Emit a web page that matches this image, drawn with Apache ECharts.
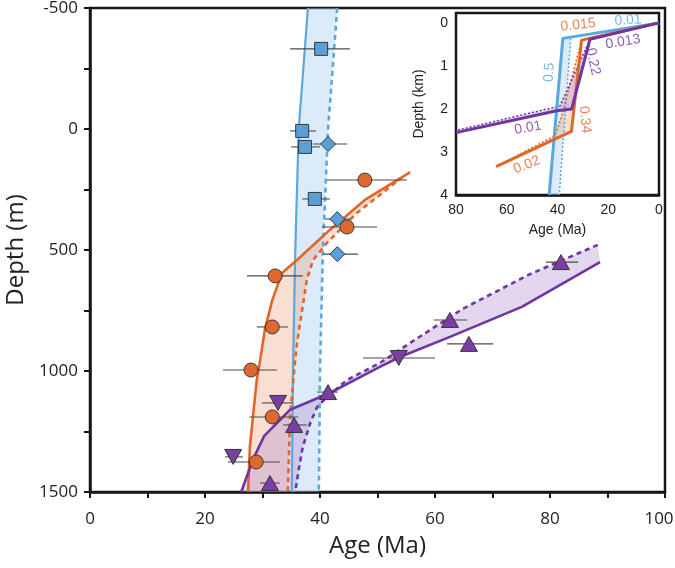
<!DOCTYPE html>
<html><head><meta charset="utf-8">
<script src="https://cdn.jsdelivr.net/npm/echarts@6/dist/echarts.min.js"></script>
<style>html,body{margin:0;padding:0;background:#fff}#c{width:675px;height:568px}</style>
</head><body><div id="c"></div>
<script>
// ---------- tick / label values ----------
const xTicks = [0,10,20,30,40,50,60,70,80,90,100];
const xLabels = [0,20,40,60,80,100];
const yTicks = [-500,-250,0,250,500,750,1000,1250,1500];
const yLabels = [-500,0,500,1000,1500];
const insetXTicks = [0,10,20,30,40,50,60,70,80];
const insetXLabels = [0,20,40,60,80];
const insetYTicks = [0,0.5,1,1.5,2,2.5,3,3.5,4];
const insetYLabels = [0,1,2,3,4];

// ---------- main model curves [age (Ma), depth (m)] ----------
const blueSolid = [[37.9,-500],[36.3,0],[35.7,500],[35.3,1000],[35.1,1500]];
const blueDashed = [[43.0,-500],[41.4,0],[40.5,500],[40.0,1000],[39.8,1500]];
const orangeSolid = [[55.7,178],[47.8,293],[41.7,417],[36.0,541],[33.4,595],[31.7,707],[30.4,830],[29.6,954],[29.0,1037],[27.8,1314],[27.5,1500]];
const orangeDashed = [[54.4,198],[46.4,347],[41.2,471],[38.8,541],[37.7,624],[36.9,748],[36.0,884],[35.5,1000],[34.8,1190],[34.4,1500]];
const purpleSolid = [[88.7,550],[75.1,735],[62.6,859],[53.9,942],[50.4,983],[41.7,1091],[34.8,1160],[30.3,1268],[28.3,1368],[26.3,1500]];
const purpleDashed = [[88.3,479],[76.5,600],[64.9,742],[56.2,876],[50.4,967],[44.7,1037],[41.2,1107],[39.5,1149],[38.3,1215],[37.0,1314],[36.2,1421],[35.7,1500]];

// ---------- samples [age, depth, ageLow, ageHigh] ----------
const blueSquares = [[40.2,-331,34.8,45.2],[36.9,8,34.8,39.3],[37.4,74,35.0,40.0],[39.1,289,36.9,41.7]];
const blueDiamonds = [[41.4,62,38.8,44.7],[43.0,372,40.9,45.2],[43.0,517,40.5,46.6]];
const orangeCircles = [[47.8,211,41.2,55.1],[44.7,405,40.3,49.9],[32.2,607,27.3,37.0],[31.7,818,29.0,34.4],[28.0,996,23.1,32.5],[31.7,1190,27.7,36.2],[28.9,1376,24.0,33.0]];
const purpleUp = [[81.9,550,79.3,84.9],[62.6,789,59.8,65.6],[65.9,888,62.1,70.1],[41.4,1087,39.5,43.1],[35.5,1223,33.6,37.7],[31.3,1463,29.6,33.0]];
const purpleDown = [[53.7,946,47.5,60.0],[32.7,1132,29.9,35.3],[24.9,1355,23.5,26.6]];

// ---------- inset curves [age (Ma), depth (km)] ----------
const insetBlueSolid = [[0,0],[37.9,0.36],[43.3,4.0]];
const insetBlueDot = [[34.8,0.36],[39.3,4.0]];
const insetOrangeSolid = [[0,0],[30.5,0.4],[34.5,2.52],[64.2,3.34]];
const insetOrangeDot = [[30.5,0.4],[38.5,2.2],[41,2.62],[57,3.12]];
const insetPurpleSolid = [[0,0],[27.2,0.38],[34.4,2.0],[40.3,2.04],[80,2.55]];
const insetPurpleDot = [[27.2,0.38],[39,1.93],[80,2.5]];

// ---------- inset annotations ----------
const insetNoteText = ['0.01','0.015','0.5','0.22','0.013','0.34','0.01','0.02'];
const insetNoteAt = [[12.2,-0.06],[31.9,0.05],[43.2,1.15],[26.0,0.9],[14.2,0.44],[29.2,2.25],[51.6,2.44],[52.1,3.3]];

// ---------- styling ----------
const BLUE = '#5BA7DF', ORANGE = '#E0662A', PURPLE = '#7135A0';
const BLUE_FILL = 'rgba(170,208,240,0.42)', ORANGE_FILL = 'rgba(238,160,125,0.35)', PURPLE_FILL = 'rgba(180,150,210,0.38)';
const noteColor = [BLUE, ORANGE, BLUE, PURPLE, PURPLE, ORANGE, PURPLE, ORANGE];
const noteRot = [3, 6, 86, -78, 9, -84, 10, 22];

function band(a, b, color, idx, z) {
  return {
    type: 'custom', xAxisIndex: idx, yAxisIndex: idx, z: z, silent: true, animation: false,
    data: [[a[0][0], a[0][1]]],
    renderItem: function (params, api) {
      const pts = a.concat(b.slice().reverse()).map(p => api.coord(p));
      return { type: 'polygon', shape: { points: pts }, style: { fill: color } };
    }
  };
}
function line(data, color, width, type, idx, z) {
  return {
    type: 'line', data: data, xAxisIndex: idx, yAxisIndex: idx, symbol: 'none', silent: true,
    animation: false, clip: false, z: z, lineStyle: { color: color, width: width, type: type, cap: 'butt' }
  };
}
function errBars(pts) {
  return {
    type: 'custom', xAxisIndex: 0, yAxisIndex: 0, z: 5, silent: true, animation: false,
    data: pts.map(p => [p[2], p[3], p[1]]),
    encode: { x: [0, 1], y: 2 },
    renderItem: function (params, api) {
      const s = api.coord([api.value(0), api.value(2)]);
      const e = api.coord([api.value(1), api.value(2)]);
      return { type: 'line', shape: { x1: s[0], y1: s[1], x2: e[0], y2: e[1] }, style: { stroke: '#4a4a4a', lineWidth: 1.1 } };
    }
  };
}
function markers(pts, symbol, size, color, rot) {
  return {
    type: 'scatter', xAxisIndex: 0, yAxisIndex: 0, z: 6, silent: true, animation: false,
    data: pts.map(p => [p[0], p[1]]), symbol: symbol, symbolSize: size, symbolRotate: rot || 0,
    itemStyle: { color: color, borderColor: '#2b2b2b', borderWidth: 0.9, opacity: 1 }
  };
}

const mainFont = 'Open Sans';
const insetFont = 'Liberation Sans';
const plain = v => String(v);
const mainX = v => (v === 100 ? '{r|100}' : String(v));

const option = {
  backgroundColor: '#fff',
  animation: false,
  grid: [
    { left: 90, top: 8, width: 575, height: 484, show: true, borderColor: '#161616', borderWidth: 2.5, backgroundColor: '#fff', containLabel: false, outerBoundsMode: 'none' },
    { left: 456, top: 13, width: 203, height: 182, show: true, borderColor: '#161616', borderWidth: 2.5, backgroundColor: '#fff', z: 3, containLabel: false, outerBoundsMode: 'none' }
  ],
  xAxis: [
    {
      gridIndex: 0, type: 'value', min: 0, max: 100,
      name: 'Age (Ma)', nameLocation: 'middle', nameGap: 42,
      nameTextStyle: { fontFamily: mainFont, fontSize: 24, color: '#222' },
      axisLine: { show: true, onZero: false, lineStyle: { color: '#161616', width: 2.5 } },
      axisTick: { show: true, length: 6, customValues: xTicks, lineStyle: { color: '#161616', width: 2 } },
      axisLabel: { customValues: xLabels, formatter: mainX, margin: 19, fontFamily: mainFont, fontSize: 17, color: '#222',
        rich: { r: { fontFamily: mainFont, fontSize: 17, color: '#222', padding: [0, 12, 0, 0] } } },
      splitLine: { show: false }
    },
    {
      gridIndex: 1, type: 'value', min: 0, max: 80, inverse: true,
      name: 'Age (Ma)', nameLocation: 'middle', nameGap: 28,
      nameTextStyle: { fontFamily: insetFont, fontSize: 14, color: '#222' },
      axisLine: { show: true, onZero: false, lineStyle: { color: '#161616', width: 2.5 } },
      axisTick: { show: true, inside: true, length: 5, customValues: insetXTicks, lineStyle: { color: '#161616', width: 2 } },
      axisLabel: { customValues: insetXLabels, formatter: plain, margin: 8, fontFamily: insetFont, fontSize: 14, color: '#222' },
      splitLine: { show: false }
    }
  ],
  yAxis: [
    {
      gridIndex: 0, type: 'value', min: -500, max: 1500, inverse: true,
      name: 'Depth (m)', nameLocation: 'middle', nameGap: 54,
      nameTextStyle: { fontFamily: mainFont, fontSize: 24, color: '#222' },
      axisLine: { show: true, onZero: false, lineStyle: { color: '#161616', width: 2.5 } },
      axisTick: { show: true, length: 6, customValues: yTicks, lineStyle: { color: '#161616', width: 2 } },
      axisLabel: { customValues: yLabels, formatter: plain, margin: 12, fontFamily: mainFont, fontSize: 17, color: '#222' },
      splitLine: { show: false }
    },
    {
      gridIndex: 1, type: 'value', min: -0.23, max: 4, inverse: true,
      name: 'Depth (km)', nameLocation: 'middle', nameGap: 30,
      nameTextStyle: { fontFamily: insetFont, fontSize: 14, color: '#222' },
      axisLine: { show: true, onZero: false, lineStyle: { color: '#161616', width: 2.5 } },
      axisTick: { show: true, inside: true, length: 5, customValues: insetYTicks, lineStyle: { color: '#161616', width: 2 } },
      axisLabel: { customValues: insetYLabels, formatter: plain, margin: 8, fontFamily: insetFont, fontSize: 14, color: '#222' },
      splitLine: { show: false }
    }
  ],
  series: [
    band(blueSolid, blueDashed, BLUE_FILL, 0, 1),
    band(orangeSolid, orangeDashed, ORANGE_FILL, 0, 1),
    band(purpleSolid, purpleDashed, PURPLE_FILL, 0, 1),
    line(blueSolid, BLUE, 2.2, 'solid', 0, 3),
    line(blueDashed, BLUE, 2.6, [5, 4], 0, 3),
    line(orangeSolid, ORANGE, 2.6, 'solid', 0, 3),
    line(orangeDashed, ORANGE, 2.6, [5, 4], 0, 3),
    line(purpleSolid, PURPLE, 2.6, 'solid', 0, 3),
    line(purpleDashed, PURPLE, 2.6, [5, 4], 0, 3),
    errBars(blueSquares), errBars(blueDiamonds), errBars(orangeCircles), errBars(purpleUp), errBars(purpleDown),
    markers(blueSquares, 'rect', 13, '#5B9FD9'),
    markers(blueDiamonds, 'diamond', [15, 15], '#5B9FD9'),
    markers(orangeCircles, 'circle', 14, '#DE6830'),
    markers(purpleUp, 'triangle', [17, 15], '#7B3FA3'),
    markers(purpleDown, 'triangle', [17, 15], '#7B3FA3', 180),
    band(insetBlueSolid.slice(1), insetBlueDot, BLUE_FILL, 1, 4),
    band(insetOrangeSolid.slice(1), insetOrangeDot, ORANGE_FILL, 1, 4),
    band(insetPurpleSolid.slice(1), insetPurpleDot, PURPLE_FILL, 1, 4),
    line(insetBlueDot, BLUE, 1.5, [2, 2], 1, 5),
    line(insetOrangeDot, ORANGE, 1.5, [2, 2], 1, 5),
    line(insetPurpleDot, PURPLE, 1.5, [2, 2], 1, 5),
    line(insetBlueSolid, BLUE, 3, 'solid', 1, 6),
    line(insetOrangeSolid, ORANGE, 3, 'solid', 1, 6),
    line(insetPurpleSolid, PURPLE, 3, 'solid', 1, 6),
    {
      type: 'scatter', xAxisIndex: 1, yAxisIndex: 1, z: 8, silent: true, animation: false, clip: false,
      symbol: 'circle', symbolSize: 0,
      data: insetNoteText.map((t, i) => ({
        value: insetNoteAt[i], name: t,
        label: { color: noteColor[i], rotate: noteRot[i] }
      })),
      label: { show: true, position: 'inside', formatter: '{b}', fontFamily: insetFont, fontSize: 14 }
    }
  ]
};
const chart = echarts.init(document.getElementById('c'), null, { renderer: 'canvas' });
chart.setOption(option);
</script>
</body></html>
